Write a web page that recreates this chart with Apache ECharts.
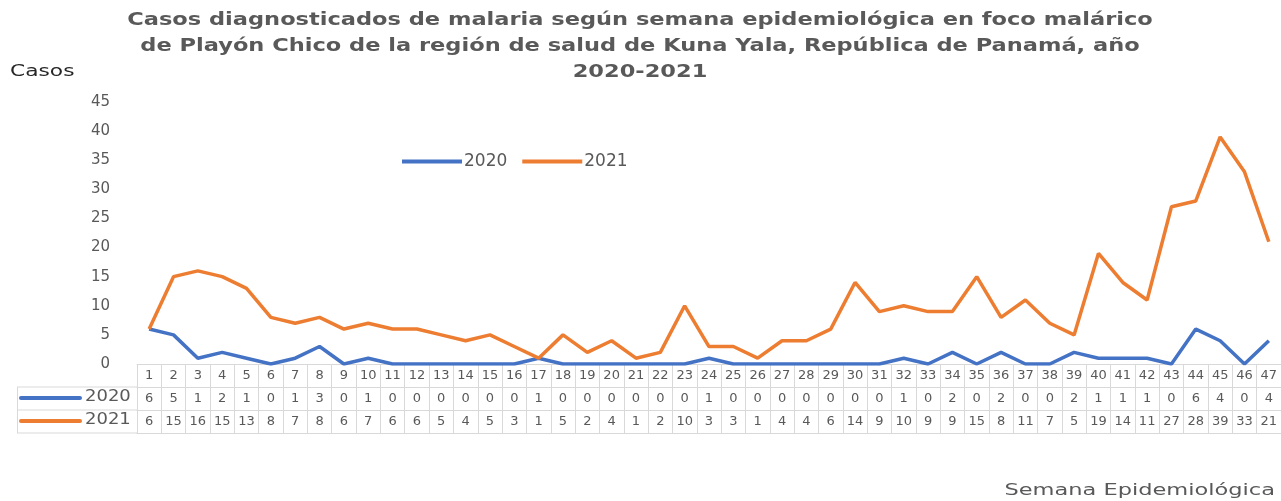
<!DOCTYPE html>
<html>
<head>
<meta charset="utf-8">
<script src="https://cdn.jsdelivr.net/npm/echarts@6/dist/echarts.min.js"></script>
<style>
html, body { margin: 0; padding: 0; background: #fff; }
#chart { width: 1281px; height: 501px; }
</style>
</head>
<body>
<div id="chart"></div>
<script>
// semanas epidemiologicas
var semanas = [];
for (var i = 1; i <= 47; i++) semanas.push(String(i));

var casos2020 = [6,5,1,2,1,0,1,3,0,1,0,0,0,0,0,0,1,0,0,0,0,0,0,1,0,0,0,0,0,0,0,1,0,2,0,2,0,0,2,1,1,1,0,6,4,0,4];
var casos2021 = [6,15,16,15,13,8,7,8,6,7,6,6,5,4,5,3,1,5,2,4,1,2,10,3,3,1,4,4,6,14,9,10,9,9,15,8,11,7,5,19,14,11,27,28,39,33,21];

var titulo = 'Casos diagnosticados de malaria según semana epidemiológica en foco malárico\nde Playón Chico de la región de salud de Kuna Yala, República de Panamá, año\n2020-2021';

var gris = '#595959';
var borde = '#d9d9d9';
var azul = '#4472C4';
var naranja = '#ED7D31';
var fuente = 'DejaVu Sans';

var fila = 23; // alto de fila de la tabla

function ejeTabla(offset, valores, conTicks){
	return {
		type: 'category',
		data: semanas,
		gridIndex: 0,
		position: 'bottom',
		offset: offset,
		axisLine: { show: true, lineStyle: { color: borde, width: 1 } },
		axisTick: { show: conTicks, alignWithLabel: false, length: fila * 3, lineStyle: { color: borde } },
		axisLabel: {
			show: valores != null,
			interval: 0,
			margin: 5,
			color: gris,
			fontFamily: fuente,
			fontSize: 13,
			formatter: function(v, idx){ return valores ? String(valores[idx]) : ''; }
		},
		splitLine: { show: false }
	};
}

var chart = echarts.init(document.getElementById('chart'));
chart.setOption({
	animation: false,
	legend: {
		data: ['2020', '2021'],
		left: 397, top: 148,
		icon: 'rect', itemWidth: 60, itemHeight: 4, itemGap: 15,
		textStyle: { color: gris, fontFamily: fuente, fontSize: 17, padding: [0, 0, 0, -3] }
	},
	grid: { left: 137, right: 0, top: 102, bottom: 137, containLabel: false },
	xAxis: [
		ejeTabla(0, semanas, true),
		ejeTabla(fila, casos2020, false),
		ejeTabla(fila * 2, casos2021, false),
		ejeTabla(fila * 3, null, false)
	],
	yAxis: {
		type: 'value', min: 0, max: 45, interval: 5,
		axisLine: { show: false }, axisTick: { show: false },
		axisLabel: { color: gris, fontFamily: fuente, fontSize: 15, margin: 27 },
		splitLine: { show: false }
	},
	graphic: [
		// titulo y nombres de ejes (texto ensanchado como en el original)
		{ type: 'text', x: 640, y: 7, scaleX: 1.25, style: { text: titulo, fill: gris, font: 'bold 18px "DejaVu Sans"', align: 'center', lineHeight: 26 } },
		{ type: 'text', x: 10, y: 65, scaleX: 1.45, style: { text: 'Casos', fill: '#262626', font: '15px "DejaVu Sans"' } },
		{ type: 'text', x: 1275, y: 484, scaleX: 1.5, style: { text: 'Semana Epidemiológica', fill: gris, font: '15px "DejaVu Sans"', align: 'right' } },
		// celdas de leyenda de la tabla
		{ type: 'line', shape: { x1: 17, y1: 364 + fila, x2: 137, y2: 364 + fila }, style: { stroke: borde } },
		{ type: 'line', shape: { x1: 17, y1: 364 + fila * 2, x2: 137, y2: 364 + fila * 2 }, style: { stroke: borde } },
		{ type: 'line', shape: { x1: 17, y1: 364 + fila * 3, x2: 137, y2: 364 + fila * 3 }, style: { stroke: borde } },
		{ type: 'line', shape: { x1: 17.5, y1: 364 + fila, x2: 17.5, y2: 364 + fila * 3 }, style: { stroke: borde } },
		{ type: 'line', shape: { x1: 21, y1: 398, x2: 80, y2: 398 }, style: { stroke: azul, lineWidth: 4, lineCap: 'round' } },
		{ type: 'line', shape: { x1: 21, y1: 421, x2: 80, y2: 421 }, style: { stroke: naranja, lineWidth: 4, lineCap: 'round' } },
		{ type: 'text', x: 85, y: 390, scaleX: 1.2, style: { text: '2020', fill: gris, font: '15px "DejaVu Sans"' } },
		{ type: 'text', x: 85, y: 413, scaleX: 1.2, style: { text: '2021', fill: gris, font: '15px "DejaVu Sans"' } }
	],
	series: [{
		name: '2020', type: 'line', data: casos2020, xAxisIndex: 0,
		showSymbol: false, symbol: 'none',
		lineStyle: { color: azul, width: 3.5 }, itemStyle: { color: azul }
	}, {
		name: '2021', type: 'line', data: casos2021, xAxisIndex: 0,
		showSymbol: false, symbol: 'none',
		lineStyle: { color: naranja, width: 3.5 }, itemStyle: { color: naranja }
	}]
});
</script>
</body>
</html>
